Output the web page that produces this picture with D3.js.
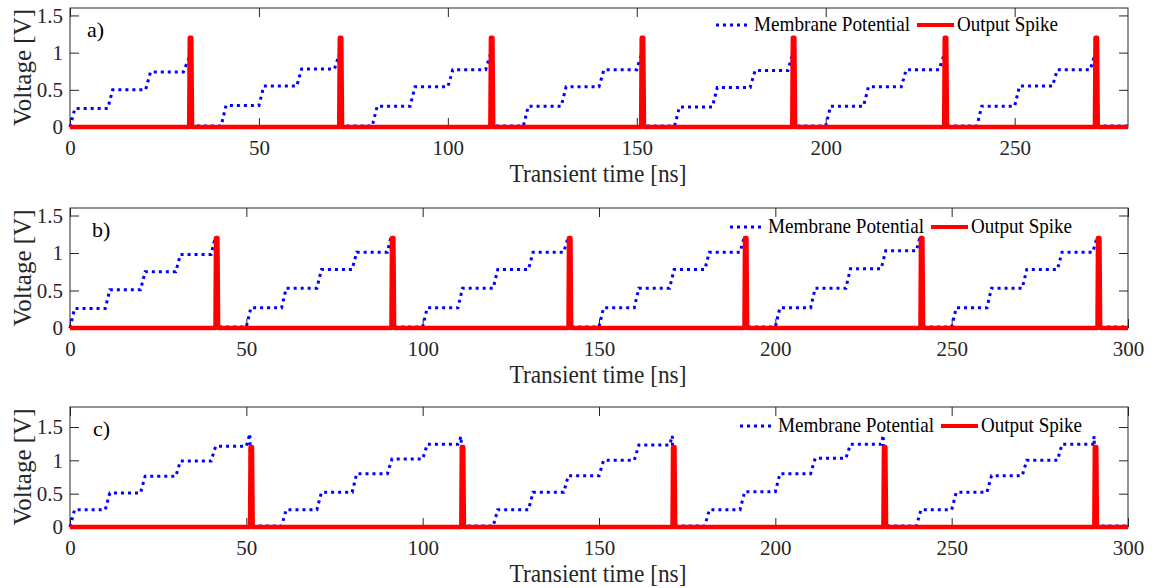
<!DOCTYPE html>
<html>
<head>
<meta charset="utf-8">
<script src="https://cdn.jsdelivr.net/npm/d3@7/dist/d3.min.js"></script>
<style>
  body { margin: 0; background: #fff; }
</style>
</head>
<body>
<svg id="chart" width="1155" height="588"></svg>
<script>
// ---- data ----
// panel a) : 4 inputs per spike, period 40 ns
var aCycleStarts = [0, 40, 80, 120, 160, 200, 240];
var aStepOffsets = [0, 10, 20, 30];
var aLevels = [
  [0.25, 0.50, 0.74, 0.93],
  [0.29, 0.55, 0.78, 0.97],
  [0.28, 0.54, 0.77, 0.97],
  [0.28, 0.54, 0.77, 0.96],
  [0.27, 0.53, 0.76, 0.96],
  [0.28, 0.54, 0.77, 0.97],
  [0.28, 0.55, 0.77, 0.97]
];
var aSpikeTimes = [31.7, 71.4, 111.4, 151.3, 191.3, 231.5, 271.4];
var aXTicks = [0, 50, 100, 150, 200, 250];

// panel b) : 5 inputs per spike, period 50 ns
var bCycleStarts = [0, 50, 100, 150, 200, 250];
var bStepOffsets = [0, 10, 20, 30, 40];
var bLevels = [
  [0.26, 0.51, 0.75, 0.98, 1.21],
  [0.27, 0.53, 0.78, 1.01, 1.23],
  [0.27, 0.53, 0.78, 1.01, 1.22],
  [0.27, 0.53, 0.78, 1.01, 1.22],
  [0.27, 0.53, 0.79, 1.03, 1.23],
  [0.27, 0.53, 0.78, 1.01, 1.22]
];
var bSpikeTimes = [41.4, 91.3, 141.5, 191.4, 241.3, 291.5];
var bXTicks = [0, 50, 100, 150, 200, 250, 300];

// panel c) : 6 inputs per spike, period 60 ns
var cCycleStarts = [0, 60, 120, 180, 240];
var cStepOffsets = [0, 10, 20, 30, 40, 50];
var cLevels = [
  [0.26, 0.51, 0.76, 0.99, 1.21, 1.40],
  [0.26, 0.52, 0.80, 1.02, 1.24, 1.36],
  [0.26, 0.52, 0.77, 1.00, 1.23, 1.37],
  [0.26, 0.53, 0.80, 1.03, 1.24, 1.38],
  [0.26, 0.52, 0.77, 1.00, 1.24, 1.36]
];
var cSpikeTimes = [51.2, 111.1, 171.0, 230.8, 290.6];
var cXTicks = [0, 50, 100, 150, 200, 250, 300];

var yTicks = [0, 0.5, 1, 1.5];
var spikePeak = 1.2;      // output spike amplitude [V]
var resetLevel = 0.015;   // membrane potential after reset [V]
var rampTime = 1.3;       // rise time of each input step [ns]

var MemColor = '#0000ff', SpikeColor = '#ff0000', AxisColor = '#262626';
var Serif = '"Liberation Serif", "Times New Roman", serif';

var svg = d3.select('#chart');

function membranePoints(starts, offsets, levels, spikes, tEnd) {
  var pts = [[0, 0]];
  starts.forEach(function(t0, k) {
    var prev = k === 0 ? 0 : resetLevel;
    var lv = levels[k];
    for (var i = 0; i < offsets.length; i++) {
      var t = t0 + offsets[i];
      pts.push([t, prev]);
      if (i < offsets.length - 1) {
        pts.push([t + rampTime, lv[i]]);
        prev = lv[i];
      } else {
        pts.push([spikes[k] - 0.2, lv[i]]);
        pts.push([spikes[k] + 0.3, resetLevel]);
      }
    }
  });
  pts.push([tEnd, resetLevel]);
  return pts;
}

function spikePoints(spikes, tEnd) {
  var pts = [[0, 0]];
  spikes.forEach(function(s) {
    pts.push([s - 0.15, 0]);
    pts.push([s, spikePeak]);
    pts.push([s + 0.4, spikePeak]);
    pts.push([s + 0.6, 0]);
  });
  pts.push([tEnd, 0]);
  return pts;
}

function styleTicks(a, withText) {
  a.attr('font-family', Serif).attr('font-size', 21);
  a.select('.domain').remove();
  a.selectAll('line').attr('stroke', AxisColor);
  a.selectAll('text').attr('fill', AxisColor);
}

function drawPanel(p) {
  var g = svg.append('g').attr('font-family', Serif);
  var x = d3.scaleLinear().domain([0, p.xMax]).range([70, 1128]);
  var y = d3.scaleLinear().domain([0, p.yMax]).range([p.bottom, p.top]);
  var tick = 9;

  // ticks (inside, on all four sides)
  g.append('g')
    .attr('transform', 'translate(0,' + p.bottom + ')')
    .call(d3.axisBottom(x).tickValues(p.xTicks).tickSize(-tick).tickPadding(13).tickFormat(d3.format('d')))
    .call(styleTicks);
  g.append('g')
    .attr('transform', 'translate(0,' + p.top + ')')
    .call(d3.axisTop(x).tickValues(p.xTicks).tickSize(-tick).tickFormat(''))
    .call(styleTicks);
  g.append('g')
    .attr('transform', 'translate(70,0)')
    .call(d3.axisLeft(y).tickValues(yTicks).tickSize(-tick).tickPadding(7).tickFormat(function(d) { return String(d); }))
    .call(styleTicks);
  g.append('g')
    .attr('transform', 'translate(1128,0)')
    .call(d3.axisRight(y).tickValues(yTicks).tickSize(-tick).tickFormat(''))
    .call(styleTicks);

  // box
  g.append('rect')
    .attr('x', 70).attr('y', p.top)
    .attr('width', 1128 - 70).attr('height', p.bottom - p.top)
    .attr('fill', 'none').attr('stroke', AxisColor).attr('stroke-width', 1);

  var line = d3.line().x(function(d) { return x(d[0]); }).y(function(d) { return y(d[1]); });

  g.append('path')
    .datum(membranePoints(p.starts, p.offsets, p.levels, p.spikes, p.xMax))
    .attr('d', line)
    .attr('fill', 'none')
    .attr('stroke', MemColor)
    .attr('stroke-width', 3)
    .attr('stroke-dasharray', '3,4');

  g.append('path')
    .datum(spikePoints(p.spikes, p.xMax))
    .attr('d', line)
    .attr('fill', 'none')
    .attr('stroke', SpikeColor)
    .attr('stroke-width', 4.5)
    .attr('stroke-linejoin', 'round');

  // labels
  g.append('text')
    .attr('x', 598).attr('y', p.bottom + 55)
    .attr('text-anchor', 'middle')
    .attr('textLength', 177).attr('lengthAdjust', 'spacingAndGlyphs')
    .attr('font-size', 25).attr('fill', AxisColor)
    .text('Transient time [ns]');
  g.append('text')
    .attr('transform', 'translate(31,' + ((p.top + p.bottom) / 2) + ') rotate(-90)')
    .attr('text-anchor', 'middle')
    .attr('textLength', 117).attr('lengthAdjust', 'spacingAndGlyphs')
    .attr('font-size', 25).attr('fill', AxisColor)
    .text('Voltage [V]');
  g.append('text')
    .attr('x', p.labelX).attr('y', p.top + 29)
    .attr('font-size', 22)
    .attr('fill', '#000')
    .text(p.label);

  // legend
  var ly = p.top + p.legendDy;
  g.append('line')
    .attr('x1', p.legendX).attr('x2', p.legendX + 33)
    .attr('y1', ly - 6).attr('y2', ly - 6)
    .attr('stroke', MemColor).attr('stroke-width', 3).attr('stroke-dasharray', '3,4');
  g.append('text')
    .attr('x', p.legendX + 38).attr('y', ly)
    .attr('textLength', 156).attr('lengthAdjust', 'spacingAndGlyphs')
    .attr('font-size', 21).attr('fill', '#000')
    .text('Membrane Potential');
  g.append('line')
    .attr('x1', p.legendX + 201).attr('x2', p.legendX + 238)
    .attr('y1', ly - 6).attr('y2', ly - 6)
    .attr('stroke', SpikeColor).attr('stroke-width', 4);
  g.append('text')
    .attr('x', p.legendX + 241).attr('y', ly)
    .attr('textLength', 101).attr('lengthAdjust', 'spacingAndGlyphs')
    .attr('font-size', 21).attr('fill', '#000')
    .text('Output Spike');
}

drawPanel({ top: 8, bottom: 127, xMax: 280, yMax: 1.6, xTicks: aXTicks,
  starts: aCycleStarts, offsets: aStepOffsets, levels: aLevels, spikes: aSpikeTimes,
  label: 'a)', labelX: 87, legendX: 716, legendDy: 23 });
drawPanel({ top: 208, bottom: 328, xMax: 300, yMax: 1.6, xTicks: bXTicks,
  starts: bCycleStarts, offsets: bStepOffsets, levels: bLevels, spikes: bSpikeTimes,
  label: 'b)', labelX: 92, legendX: 730, legendDy: 25 });
drawPanel({ top: 407, bottom: 527, xMax: 300, yMax: 1.8, xTicks: cXTicks,
  starts: cCycleStarts, offsets: cStepOffsets, levels: cLevels, spikes: cSpikeTimes,
  label: 'c)', labelX: 93, legendX: 740, legendDy: 25 });
</script>
</body>
</html>
